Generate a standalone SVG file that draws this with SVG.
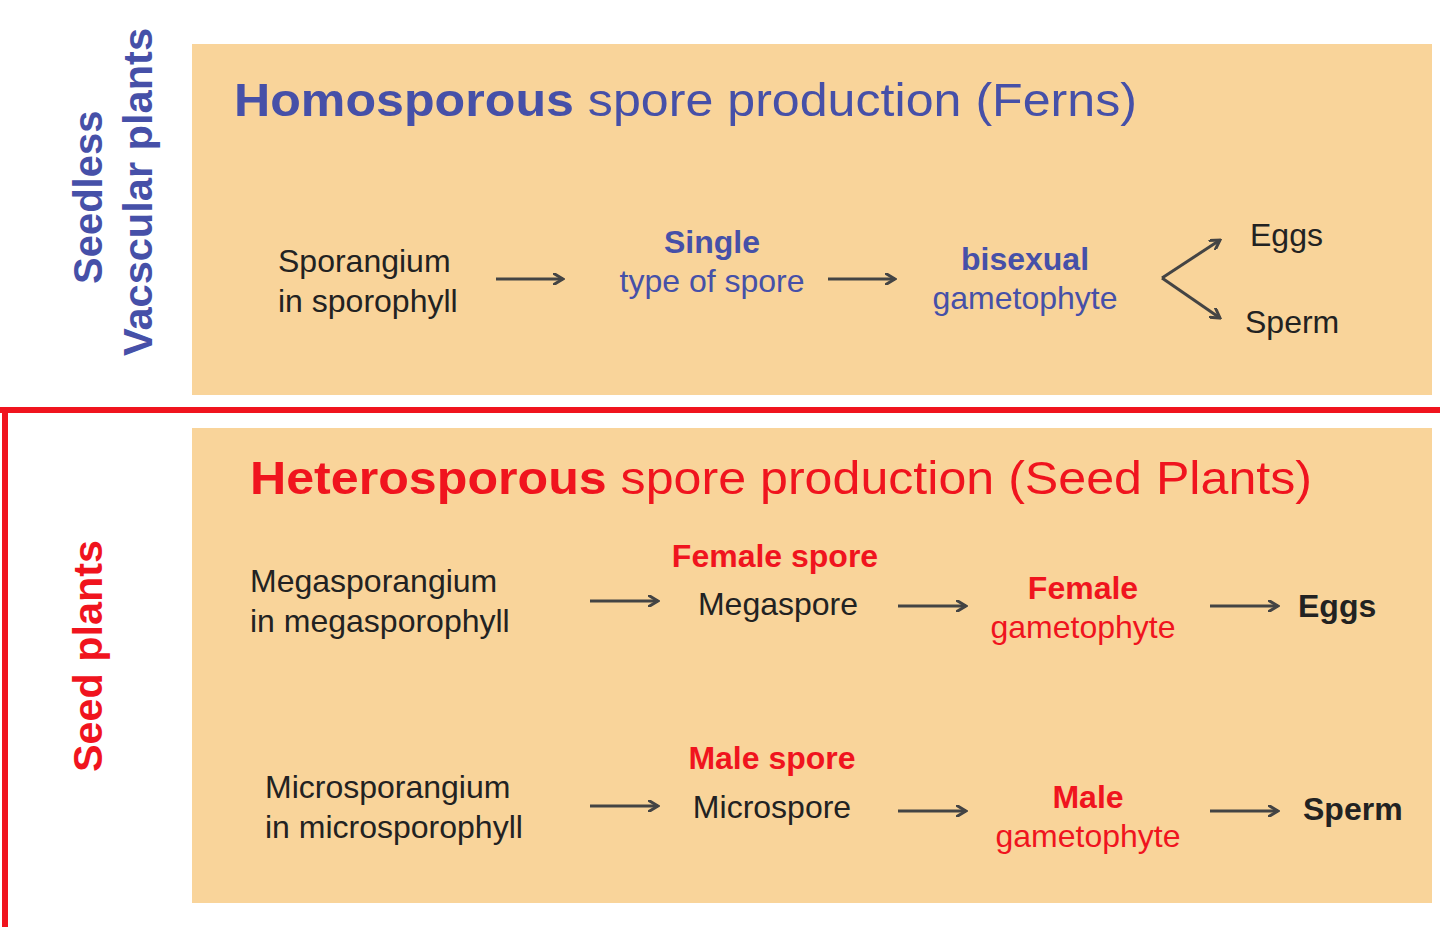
<svg xmlns="http://www.w3.org/2000/svg" width="1440" height="927" viewBox="0 0 1440 927">
<style>
text{font-family:"Liberation Sans",Arial,sans-serif}
.k{fill:#222;font-size:32px}
.kb{fill:#222;font-size:32px;font-weight:bold}
.b{fill:#4650A8;font-size:32px}
.bb{fill:#4650A8;font-size:32px;font-weight:bold}
.r{fill:#F0141E;font-size:32px}
.rb{fill:#F0141E;font-size:32px;font-weight:bold}
.box{fill:#F9D49A}
.a{stroke:#444;stroke-width:3;fill:none}
</style>
<defs><marker id="ah" markerWidth="12" markerHeight="12" refX="10" refY="6" orient="auto" markerUnits="userSpaceOnUse"><path d="M0,0 L10,6 L0,12" fill="none" stroke="#444" stroke-width="3"/></marker></defs>
<rect width="1440" height="927" fill="#fff"/>
<rect class="box" x="192" y="44" width="1240" height="351"/>
<rect class="box" x="192" y="428" width="1240" height="475"/>
<path d="M0,410 H1440 M5,410 V927" stroke="#F0141E" stroke-width="6" fill="none"/>
<g id="side-labels">
<text class="bb" style="font-size:40px" transform="translate(102,284) rotate(-90)">Seedless</text>
<text class="bb" style="font-size:40px" transform="translate(152,356) rotate(-90)" textLength="328" lengthAdjust="spacingAndGlyphs">Vacscular plants</text>
<text class="rb" style="font-size:40px" transform="translate(102,772) rotate(-90)" textLength="232" lengthAdjust="spacingAndGlyphs">Seed plants</text>
</g>
<g id="title1"><text x="234" y="116" style="font-size:46px" class="b" textLength="903" lengthAdjust="spacingAndGlyphs"><tspan font-weight="bold">Homosporous</tspan> spore production (Ferns)</text></g>
<g id="title2"><text x="250" y="494" style="font-size:46px" class="r" textLength="1062" lengthAdjust="spacingAndGlyphs"><tspan font-weight="bold">Heterosporous</tspan> spore production (Seed Plants)</text></g>
<g id="n-sporangium"><text class="k" x="278" y="272">Sporangium</text><text class="k" x="278" y="312">in sporophyll</text></g>
<g id="n-single"><text class="bb" x="712" y="253" text-anchor="middle">Single</text><text class="b" x="712" y="292" text-anchor="middle">type of spore</text></g>
<g id="n-bisexual"><text class="bb" x="1025" y="270" text-anchor="middle">bisexual</text><text class="b" x="1025" y="309" text-anchor="middle">gametophyte</text></g>
<g id="n-eggs1"><text class="k" x="1250" y="246">Eggs</text></g>
<g id="n-sperm1"><text class="k" x="1245" y="333">Sperm</text></g>
<g id="n-mega"><text class="k" x="250" y="592">Megasporangium</text><text class="k" x="250" y="632">in megasporophyll</text></g>
<g id="n-megaspore"><text class="rb" x="775" y="567" text-anchor="middle">Female spore</text><text class="k" x="778" y="615" text-anchor="middle">Megaspore</text></g>
<g id="n-femgam"><text class="rb" x="1083" y="599" text-anchor="middle">Female</text><text class="r" x="1083" y="638" text-anchor="middle">gametophyte</text></g>
<g id="n-eggs2"><text class="kb" x="1298" y="617">Eggs</text></g>
<g id="n-micro"><text class="k" x="265" y="798">Microsporangium</text><text class="k" x="265" y="838">in microsporophyll</text></g>
<g id="n-microspore"><text class="rb" x="772" y="769" text-anchor="middle">Male spore</text><text class="k" x="772" y="818" text-anchor="middle">Microspore</text></g>
<g id="n-malegam"><text class="rb" x="1088" y="808" text-anchor="middle">Male</text><text class="r" x="1088" y="847" text-anchor="middle">gametophyte</text></g>
<g id="n-sperm2"><text class="kb" x="1303" y="820">Sperm</text></g>
<g id="connectors">
<path class="a" marker-end="url(#ah)" d="M496,279 H563"/>
<path class="a" marker-end="url(#ah)" d="M828,279 H895"/>
<path class="a" marker-end="url(#ah)" d="M1162,278 L1220,240"/>
<path class="a" marker-end="url(#ah)" d="M1162,278 L1220,318"/>
<path class="a" marker-end="url(#ah)" d="M590,601 H658"/>
<path class="a" marker-end="url(#ah)" d="M898,606 H966"/>
<path class="a" marker-end="url(#ah)" d="M1210,606 H1278"/>
<path class="a" marker-end="url(#ah)" d="M590,806 H658"/>
<path class="a" marker-end="url(#ah)" d="M898,811 H966"/>
<path class="a" marker-end="url(#ah)" d="M1210,811 H1278"/>
</g>
</svg>
